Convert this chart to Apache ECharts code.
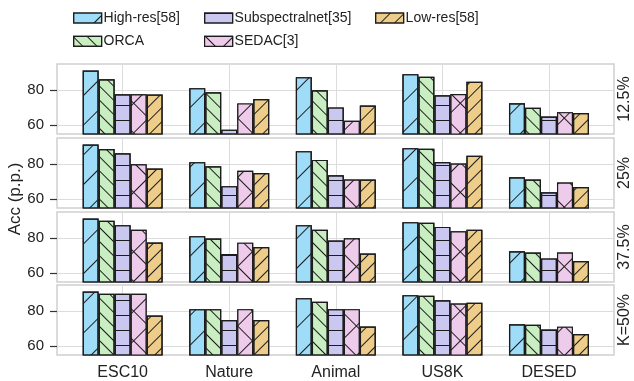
<!DOCTYPE html>
<html><head><meta charset="utf-8">
<script src="https://cdn.jsdelivr.net/npm/echarts@6/dist/echarts.min.js"></script>
<style>html,body{margin:0;padding:0;background:#fff}#c{width:634px;height:381px}</style>
</head><body><div id="c"></div><script>
// ---- data ----
const categories = ['ESC10', 'Nature', 'Animal', 'US8K', 'DESED'];
const panelLabels = ['12.5%', '25%', '37.5%', 'K=50%'];
const seriesNames = ['High-res[58]', 'ORCA', 'Subspectralnet[35]', 'SEDAC[3]', 'Low-res[58]'];
const highRes = [91.3, 81.2, 87.5, 89.2, 72.6];
const lowRes = [77.6, 75.0, 71.3, 84.8, 67.0];
const orca = [
  [86.3, 78.8, 80.0, 87.7, 70.0],
  [88.7, 78.8, 82.5, 88.8, 71.3],
  [90.0, 79.8, 84.8, 88.8, 71.9],
  [90.0, 81.2, 85.4, 88.8, 72.3]
];
const subspectral = [
  [77.7, 57.5, 70.2, 77.1, 65.0],
  [86.3, 67.5, 73.7, 81.3, 64.0],
  [87.5, 71.0, 78.7, 86.5, 68.5],
  [90.0, 75.0, 81.2, 86.3, 69.6]
];
const sedac = [
  [77.7, 72.5, 62.6, 77.9, 67.5],
  [80.0, 76.3, 71.3, 80.4, 69.6],
  [84.8, 77.5, 80.0, 84.0, 71.9],
  [90.0, 81.2, 81.2, 84.4, 71.2]
];
const yTicks = [60, 80];
const xTicks = [0, 1, 2, 3, 4];

// ---- style ----
const FONT = "'Liberation Sans', Arial, sans-serif";
const INK = '#1c1c1c';
const palette = ['#9fdcf8', '#c8eec1', '#cac7f0', '#eecbea', '#eecd8b'];
function lines(rot, gap) {
  return { symbol: 'rect', symbolSize: 1, color: INK, dashArrayX: [1, 0], dashArrayY: [1, gap], rotation: rot };
}
function makeDecal(s) {
  if (s === 0) return lines(-Math.PI / 4, 20);
  if (s === 1) return lines(Math.PI / 4, 9);
  if (s === 2) return lines(0, 14);
  if (s === 3) return { symbol: 'rect', symbolSize: 1, color: palette[3], backgroundColor: INK, dashArrayX: [20, 1], dashArrayY: [20, 1], rotation: Math.PI / 4 };
  return lines(-Math.PI / 4, 9);
}
const gridTops = [64, 138, 212, 285];
const gridH = 70;
const gridLeft = 57, gridRight = 20;

const grids = [], xAxes = [], yAxes = [], series = [], graphics = [];
panelLabels.forEach((lab, p) => {
  grids.push({ left: gridLeft, right: gridRight, top: gridTops[p], height: gridH, show: true, borderColor: '#cfcfcf', borderWidth: 1.5, backgroundColor: '#fff' });
  xAxes.push({
    type: 'value', gridIndex: p, min: -0.616, max: 4.61,
    axisLine: { show: false, onZero: false },
    axisTick: { show: false, customValues: xTicks },
    splitLine: { show: true, lineStyle: { color: '#dcdcdc', width: 1 } },
    axisLabel: { show: p === 3, customValues: xTicks, formatter: v => categories[Math.round(v)] || '',
      fontFamily: FONT, fontSize: 16, color: '#222', margin: 10 }
  });
  yAxes.push({
    type: 'value', gridIndex: p, min: 55, max: 95,
    axisLine: { show: false, onZero: false },
    axisTick: { show: true, length: 7, customValues: yTicks, lineStyle: { color: '#333', width: 1.2 } },
    splitLine: { show: true, lineStyle: { color: '#dcdcdc', width: 1 } },
    axisLabel: { customValues: yTicks, fontFamily: FONT, fontSize: 15, color: '#222', margin: 13 }
  });
  graphics.push({
    type: 'text', x: 625, y: gridTops[p] + gridH / 2, rotation: Math.PI / 2,
    style: { text: lab, font: "16px 'Liberation Sans', Arial, sans-serif", fill: '#222', align: 'center', verticalAlign: 'middle' }
  });
});
panelLabels.forEach((lab, p) => {
  const vals = [highRes, orca[p], subspectral[p], sedac[p], lowRes];
  vals.forEach((arr, s) => {
    series.push({
      type: 'bar', name: seriesNames[s], xAxisIndex: p, yAxisIndex: p,
      barWidth: 16, barGap: '0%', clip: true,
      data: arr.map((v, i) => [i, v]),
      itemStyle: { color: palette[s], borderColor: INK, borderWidth: 1.2, decal: makeDecal(s) },
      emphasis: { disabled: true }
    });
  });
});

function legendBlock(left, idx) {
  return {
    orient: 'vertical', left: left, top: 11, padding: 0, itemWidth: 28, itemHeight: 10, itemGap: 9.3,
    icon: 'rect', selectedMode: false,
    data: idx.map(s => ({ name: seriesNames[s], itemStyle: { color: palette[s], borderColor: INK, borderWidth: 1.2, decal: makeDecal(s) } })),
    textStyle: { fontFamily: FONT, fontSize: 14, color: '#222', lineHeight: 14, padding: [0, 0, 0, -3] }
  };
}
graphics.push({
  type: 'text', x: 15, y: 199, rotation: Math.PI / 2,
  style: { text: 'Acc (p.p.)', font: "17px 'Liberation Sans', Arial, sans-serif", fill: '#222', align: 'center', verticalAlign: 'middle' }
});

const chart = echarts.init(document.getElementById('c'), null, { renderer: 'canvas' });
chart.setOption({
  animation: false,
  backgroundColor: '#fff',
  grid: grids, xAxis: xAxes, yAxis: yAxes, series: series,
  legend: [
    legendBlock(73, [0, 1]),
    legendBlock(204, [2, 3]),
    legendBlock(375, [4])
  ],
  graphic: graphics
});
</script></body></html>
